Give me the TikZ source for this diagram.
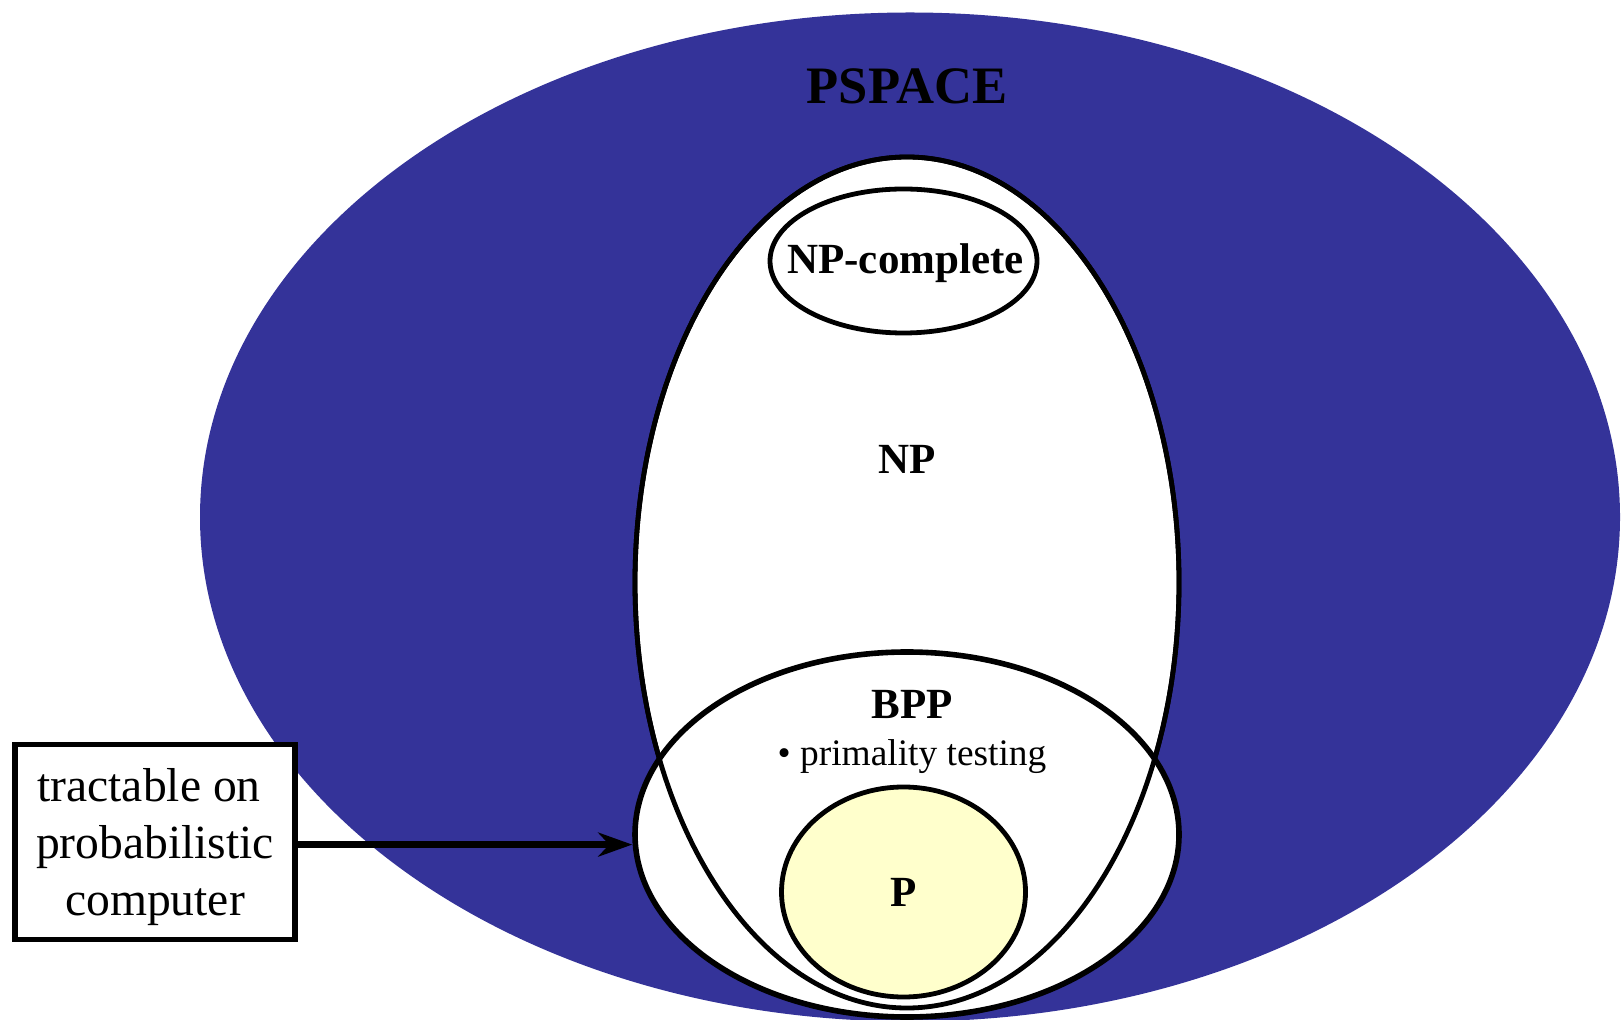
\documentclass[tikz,border=0pt]{standalone}
\usepackage{fontspec}
\setmainfont{Liberation Serif}
\usetikzlibrary{arrows.meta,positioning,shapes.geometric}
\definecolor{ps}{HTML}{343399}
\definecolor{py}{HTML}{FFFFCC}
\tikzset{
  cls/.style={ellipse, draw, inner sep=0pt, line width=2.4pt, fill=white},
  lbl/.style={font=\fontsize{21.5}{26}\selectfont\bfseries, inner sep=0pt, anchor=base},
  note/.style={font=\fontsize{18.7}{22}\selectfont, inner sep=0pt, anchor=base},
  tag/.style={draw, line width=2.6pt, fill=white, align=center, inner sep=0pt, text depth=0pt,
    minimum width=140pt, minimum height=97.5pt, font=\fontsize{23.8}{28.7}\selectfont},
  edge/.style={-{Stealth[length=17pt, width=12pt]}, line width=3.4pt},
}

\begin{document}
\begin{tikzpicture}[x=0.5pt,y=-0.5pt]
  \useasboundingbox (0,0) rectangle (1621,1020);
  \clip (0,0) rectangle (1621,1020);
  % classes
  \node[ellipse, fill=ps, inner sep=0pt, minimum width=710pt, minimum height=504.5pt] (pspace) at (910,517) {};
  \node[cls, minimum width=272pt, minimum height=425.5pt] (np) at (907,582.5) {};
  \node[cls, line width=2.8pt, minimum width=272pt, minimum height=182.5pt] (bpp) at (907,834.5) {};
  \draw[line width=2.4pt] (np) ellipse [x radius=136pt, y radius=212.75pt];
  \node[cls, minimum width=133.5pt, minimum height=72pt] (npc) at (903.5,261) {};
  \node[cls, fill=py, minimum width=122pt, minimum height=105pt] (p) at (903.5,892) {};
  % labels
  \node[lbl, font=\fontsize{26.3}{30}\selectfont\bfseries] (pspacelbl) at (907,104) {PSPACE};
  \node[lbl] (npclbl) at (905.5,274) {NP-complete};
  \node[lbl] (nplbl) at (907,473.5) {NP};
  \node[lbl] (bpplbl) at (912,718.5) {BPP};
  \node[note] (bppex) at (912,765) {\textbullet\ primality testing};
  \node[lbl] (plbl) at (903.5,906.5) {P};
  % side note
  \node[tag] (box) at (155,842) {tractable on\ \mbox{}\\probabilistic\\computer};
  \draw[edge] ([yshift=-1.3pt]box.east) -- ([yshift=-1.3pt]box.east -| bpp.west);
\end{tikzpicture}
\end{document}
